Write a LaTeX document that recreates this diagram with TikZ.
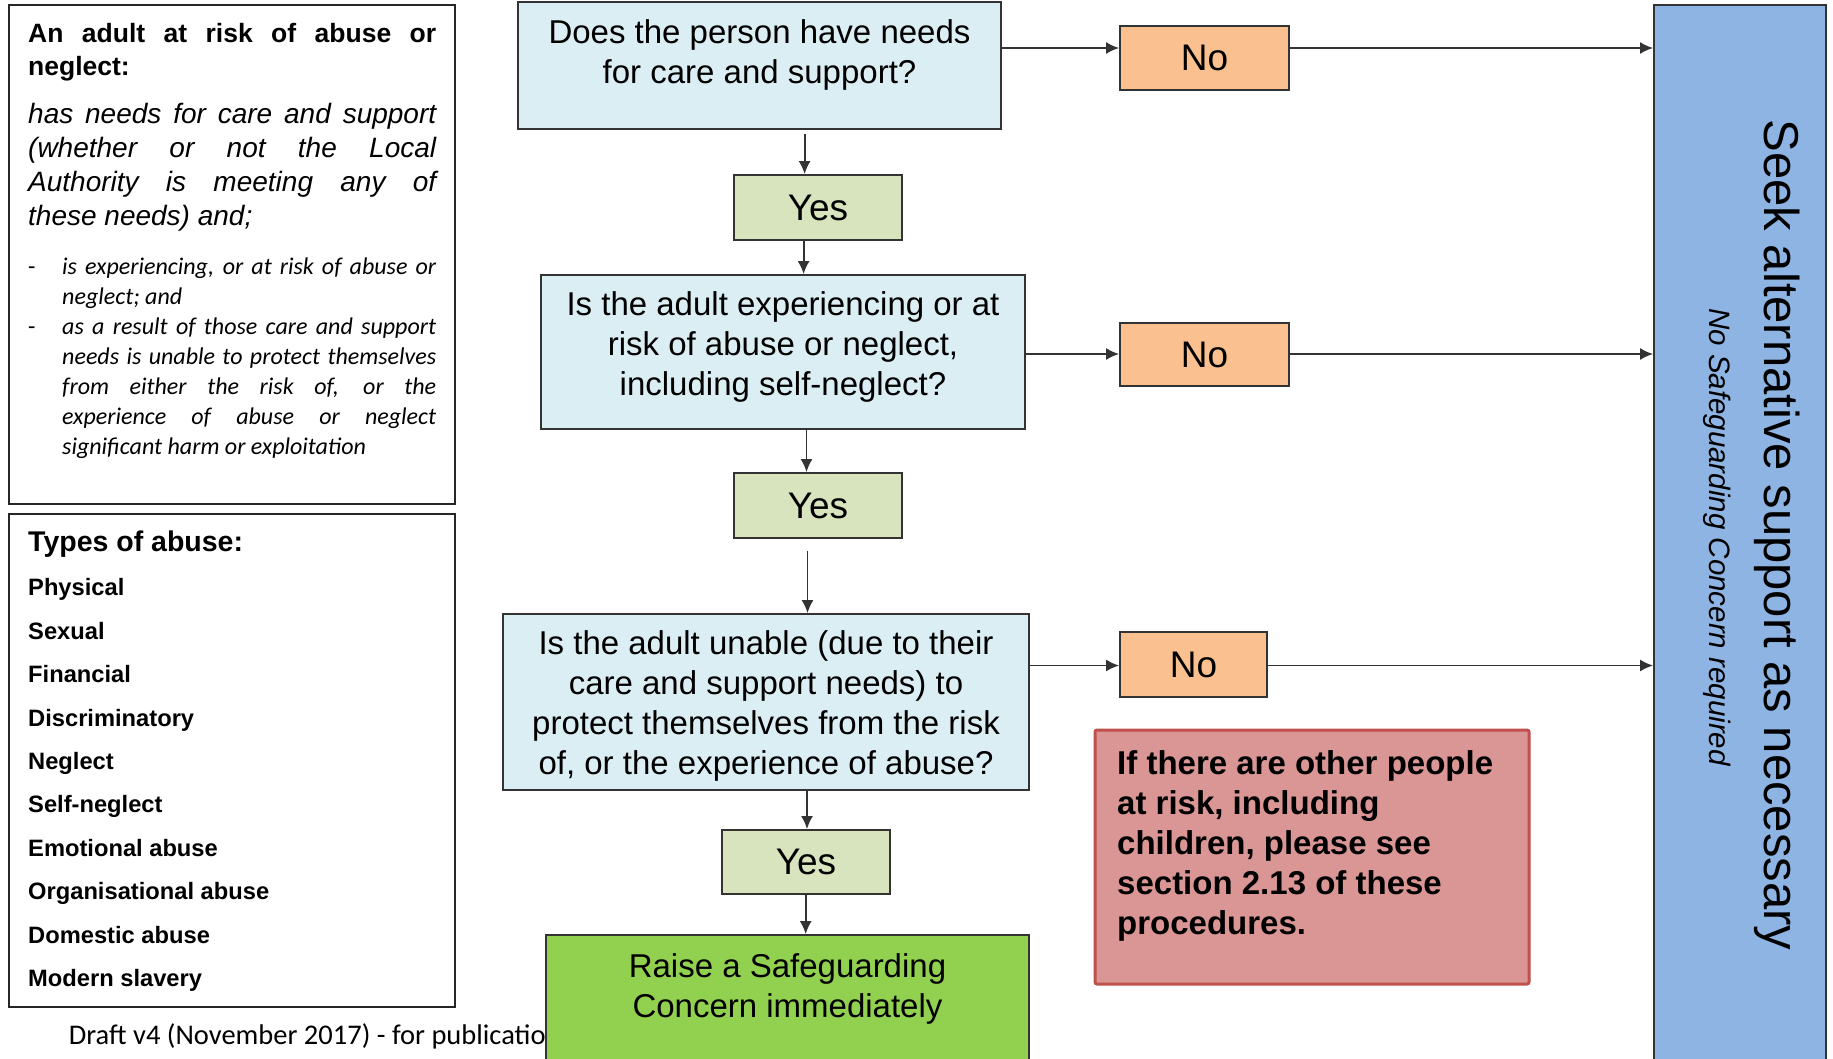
\documentclass[tikz,border=0pt]{standalone}
\usepackage{fontspec}
\setmainfont{Liberation Sans}
\newfontfamily\carl{Carlito}
\usetikzlibrary{arrows.meta}
\definecolor{qfill}{HTML}{DBEEF4}
\definecolor{yfill}{HTML}{D7E4BD}
\definecolor{nfill}{HTML}{FAC090}
\definecolor{gfill}{HTML}{92D050}
\definecolor{rfill}{HTML}{D99694}
\definecolor{rline}{HTML}{C0504D}
\definecolor{bfill}{HTML}{8EB4E3}
\definecolor{edge}{HTML}{333333}
\begin{document}
\begin{tikzpicture}[x=1pt,y=-1pt,
  box/.style={draw=edge, line width=1.8pt, inner sep=0pt},
  qbox/.style={box, fill=qfill},
  ybox/.style={box, fill=yfill, minimum width=168pt, minimum height=65pt},
  nbox/.style={box, fill=nfill, minimum height=64pt},
  wbox/.style={draw=black!85, line width=1.8pt, fill=white, inner sep=0pt},
  qtext/.style={align=center, inner sep=0pt, font=\fontsize{33}{40}\selectfont},
  anstext/.style={inner sep=0pt, font=\fontsize{37}{44}\selectfont},
  arr/.style={draw=edge, line width=1.8pt, -{Latex[length=13pt,width=12pt]}},
]
\useasboundingbox (0,0) rectangle (1833,1058);
\clip (0,0) rectangle (1833,1058);
\fill[white] (0,0) rectangle (1833,1058);

% left boxes
\node[wbox, minimum width=446pt, minimum height=499pt] (box1) at (232,254.5) {};
\node[wbox, minimum width=446pt, minimum height=493pt] (box2) at (232,760.5) {};

\node[anchor=north west, inner sep=0pt, text width=408pt, align=justify,
  font=\bfseries\fontsize{26.5}{33.5}\selectfont] (h1) at (28,22.7)
  {An adult at risk of abuse or\linebreak neglect:};
\node[anchor=north west, inner sep=0pt, text width=408pt, align=justify,
  font=\itshape\fontsize{28}{34}\selectfont] (i1) at (28,102.6)
  {has needs for care and support\linebreak (whether or not the Local\linebreak Authority is meeting any of\linebreak these needs) and;};
\node[anchor=north west, inner sep=0pt, text width=408pt, align=justify,
  font=\carl\itshape\fontsize{24}{30}\selectfont] (bl) at (28,257.3)
  {\hangindent=34pt\hangafter=1\noindent\makebox[34pt][l]{\upshape -}is experiencing, or at risk of abuse or\linebreak neglect; and\par
   \hangindent=34pt\hangafter=1\noindent\makebox[34pt][l]{\upshape -}as a result of those care and support\linebreak needs is unable to protect themselves\linebreak from either the risk of, or the\linebreak experience of abuse or neglect\linebreak significant harm or exploitation\par};

\node[anchor=base west, inner sep=0pt, font=\bfseries\fontsize{28.5}{32}\selectfont] (types) at (28,551.6) {Types of abuse:};
\node[anchor=north west, inner sep=0pt, align=left, font=\bfseries\fontsize{23.7}{43.4}\selectfont] (list) at (28,578.6)
  {Physical\\Sexual\\Financial\\Discriminatory\\Neglect\\Self-neglect\\Emotional abuse\\Organisational abuse\\Domestic abuse\\Modern slavery};

\node[anchor=base west, inner sep=0pt, font=\carl\fontsize{28.5}{34}\selectfont] (draft) at (68.6,1044.5) {Draft v4 (November 2017) - for publication};

% flow boxes
\node[qbox, minimum width=483pt, minimum height=127pt] (q1) at (759.5,65.5) {};
\node[qtext] (q1t) at (759.5,54.5) {Does the person have needs\\for care and support?};
\node[ybox] (y1) at (818,207.5) {};
\node[anstext] (y1t) at (818,207.5) {Yes};
\node[qbox, minimum width=484pt, minimum height=154pt] (q2) at (783,352) {};
\node[qtext] (q2t) at (783,347.4) {Is the adult experiencing or at\\risk of abuse or neglect,\\including self-neglect?};
\node[ybox] (y2) at (818,505.5) {};
\node[anstext] (y2t) at (818,505.5) {Yes};
\node[qbox, minimum width=526pt, minimum height=176pt] (q3) at (766,702) {};
\node[qtext] (q3t) at (766,706.4) {Is the adult unable (due to their\\care and support needs) to\\protect themselves from the risk\\of, or the experience of abuse?};
\node[ybox, minimum height=64pt] (y3) at (806,862) {};
\node[anstext] (y3t) at (806,862) {Yes};
\node[box, fill=gfill, minimum width=483pt, minimum height=145pt] (g) at (787.5,1007.5) {};
\node[qtext] (gt) at (787.5,989.4) {Raise a Safeguarding\\Concern immediately};

\node[nbox, minimum width=169pt] (n1) at (1204.5,58) {};
\node[anstext] (n1t) at (1204.5,58) {No};
\node[nbox, minimum width=169pt, minimum height=63pt] (n2) at (1204.5,354.5) {};
\node[anstext] (n2t) at (1204.5,354.5) {No};
\node[nbox, minimum width=147pt, minimum height=65pt] (n3) at (1193.5,664.5) {};
\node[anstext] (n3t) at (1193.5,664.5) {No};

\node[draw=rline, line width=3pt, fill=rfill, rounded corners=2pt, minimum width=434pt, minimum height=254pt, inner sep=0pt] (red) at (1312,857) {};
\node[anchor=west, inner sep=0pt, align=left, font=\bfseries\fontsize{33}{40}\selectfont] (redt) at (1117,846.4)
  {If there are other people\\at risk, including\\children, please see\\section 2.13 of these\\procedures.};

\node[box, fill=bfill, minimum width=172pt, minimum height=1075pt] (blue) at (1740,542.5) {};
\node[rotate=-90, inner sep=0pt, font=\fontsize{49}{56}\selectfont] (seek) at (1777,535) {Seek alternative support as necessary};
\node[rotate=-90, inner sep=0pt, font=\itshape\fontsize{29.5}{34}\selectfont] (nosg) at (1717,537) {No Safeguarding Concern required};

% connectors
\coordinate (c1) at (804.6,0);
\coordinate (c2) at (803.6,0);
\coordinate (c3) at (806.5,0);
\coordinate (c4) at (807.5,0);
\coordinate (c5) at (807,0);
\coordinate (c6) at (805.7,0);
\draw[arr, shorten <=4pt] (q1.south -| c1) -- (y1.north -| c1);
\draw[arr] (y1.south -| c2) -- (q2.north -| c2);
\draw[arr] (q2.south -| c3) -- (y2.north -| c3);
\draw[arr, shorten <=12pt] (y2.south -| c4) -- (q3.north -| c4);
\draw[arr] (q3.south -| c5) -- (y3.north -| c5);
\draw[arr] (y3.south -| c6) -- (g.north -| c6);

\coordinate (r1) at (0,48);
\coordinate (r2) at (0,354);
\coordinate (r3) at (0,665.5);
\draw[arr] (q1.east |- r1) -- (n1.west |- r1);
\draw[arr] (n1.east |- r1) -- (blue.west |- r1);
\draw[arr] (q2.east |- r2) -- (n2.west |- r2);
\draw[arr] (n2.east |- r2) -- (blue.west |- r2);
\draw[arr] (q3.east |- r3) -- (n3.west |- r3);
\draw[arr] (n3.east |- r3) -- (blue.west |- r3);
\end{tikzpicture}
\end{document}
